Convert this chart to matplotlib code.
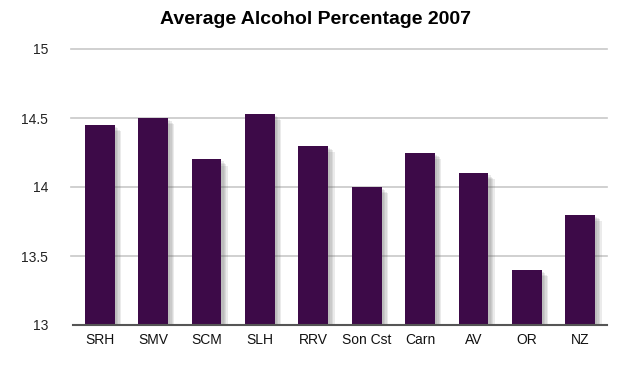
import matplotlib
matplotlib.use("Agg")
import matplotlib.pyplot as plt
import matplotlib.patheffects as pe

categories = ["SRH", "SMV", "SCM", "SLH", "RRV", "Son Cst", "Carn", "AV", "OR", "NZ"]
values = [14.45, 14.5, 14.2, 14.53, 14.3, 14.0, 14.25, 14.1, 13.4, 13.8]
yticks = [13, 13.5, 14, 14.5, 15]
ytick_labels = ["13", "13.5", "14", "14.5", "15"]

plt.rcParams['font.family'] = ['Liberation Sans', 'DejaVu Sans']

fig = plt.figure(figsize=(6.32, 3.75), dpi=100)
ax = fig.add_axes([73/632, 50/375, 534/632, 276/375])

x = list(range(len(categories)))
bars = ax.bar(x, [v - 13 for v in values], bottom=13, width=0.56, color="#3d0a48", zorder=3)
shadow = [pe.SimplePatchShadow(offset=(o, -o), shadow_rgbFace="#666666", alpha=0.13)
          for o in (1.5, 2.5, 3.5, 4.5)]
for b in bars:
    b.set_path_effects(shadow + [pe.Normal()])

ax.set_xlim(-0.5, len(categories) - 0.5)
ax.set_ylim(13, 15)
ax.set_yticks(yticks)
ax.set_yticklabels(ytick_labels)
ax.set_xticks(x)
ax.set_xticklabels(categories)

for y in yticks[1:]:
    ax.axhline(y, color="#c8c8c8", lw=1.2, zorder=1, clip_on=False, xmin=-0.004)

for s in ["top", "right", "left"]:
    ax.spines[s].set_visible(False)
ax.spines["bottom"].set_color("#555555")
ax.spines["bottom"].set_linewidth(1.5)
ax.spines["bottom"].set_zorder(4)

ax.tick_params(axis="y", length=0, pad=18, labelsize=10, labelcolor="#222222")
ax.tick_params(axis="x", length=0, pad=6, labelsize=10, labelcolor="#111111")

fig.text(0.5, 0.948, "Average Alcohol Percentage 2007", ha="center", va="center",
         fontsize=14, fontweight="bold", color="#000000")

fig.savefig("out.png", dpi=100, facecolor="white")
